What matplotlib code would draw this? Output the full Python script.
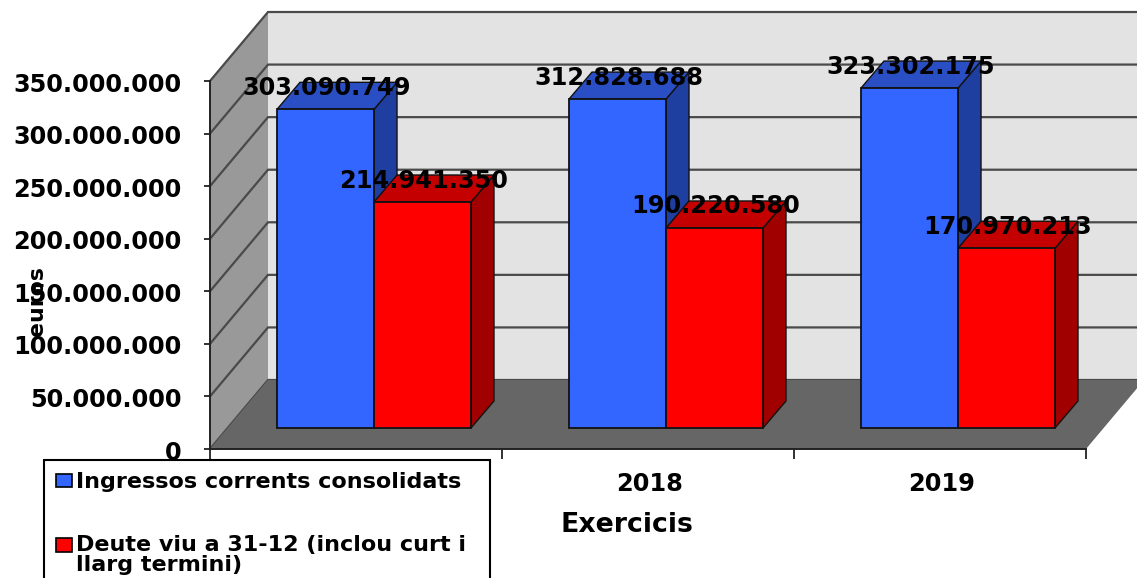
import matplotlib
matplotlib.use("Agg")
import matplotlib.pyplot as plt
from matplotlib.patches import Polygon, Patch
from matplotlib.transforms import Affine2D

x_labels = ["", "2018", "2019"]
ingressos = [303090749, 312828688, 323302175]
deute = [214941350, 190220580, 170970213]
series_names = ["Ingressos corrents consolidats",
                "Deute viu a 31-12 (inclou curt i\nllarg termini)"]
y_ticks = [0, 50000000, 100000000, 150000000, 200000000, 250000000, 300000000, 350000000]

W, H = 1137, 578
FONT = "DejaVu Sans"
fig = plt.figure(figsize=(W / 100, H / 100), dpi=100, facecolor="white")
L, R, T, B = 210, 1086, 81, 449
ax = fig.add_axes([L / W, (H - B) / H, (R - L) / W, (B - T) / H])
ax.patch.set_visible(False)
ax.set_xlim(0, 3)
ax.set_ylim(0, 350000000)
px_x = (R - L) / 3
px_y = (B - T) / 350000000


def shifted(dx, dy):
    return ax.transData + Affine2D().translate(dx, dy)


WALL_DX, WALL_DY = 58, 69
wdx, wdy = WALL_DX / px_x, WALL_DY / px_y
ymax = 350000000
# walls and floor
ax.add_patch(Polygon([(0, 0), (wdx, wdy), (wdx, ymax + wdy), (0, ymax)], closed=True,
                     fc="#999999", ec="none", zorder=0.5, clip_on=False))
ax.add_patch(Polygon([(wdx, wdy), (3 + wdx, wdy), (3 + wdx, ymax + wdy), (wdx, ymax + wdy)], closed=True,
                     fc="#e3e3e3", ec="none", zorder=0.5, clip_on=False))
for v in y_ticks:
    ax.plot([0, wdx, 3 + wdx], [v, v + wdy, v + wdy], color="#4a4a4a", lw=1.6, zorder=0.7,
            clip_on=False, solid_joinstyle="miter")
ax.add_patch(Polygon([(0, 0), (3, 0), (3 + wdx, wdy), (wdx, wdy)], closed=True,
                     fc="#666666", ec="none", zorder=0.8, clip_on=False))

# bars
FRONT_DX, FRONT_DY = 18, 21
DEPTH_DX, DEPTH_DY = 23, 27
ddx, ddy = DEPTH_DX / px_x, DEPTH_DY / px_y
bw = 97 / px_x
t_front = shifted(FRONT_DX, FRONT_DY)
styles = [("#3366ff", "#2a4fc4", "#1f3fa0"), ("#ff0000", "#c40000", "#a00000")]
for s, (vals, (cf, ct, cs)) in enumerate(zip([ingressos, deute], styles)):
    xs = [i + 0.5 + (s - 0.5) * bw for i in range(3)]
    for x, v in zip(xs, vals):
        x0, x1 = x - bw / 2, x + bw / 2
        ax.add_patch(Polygon([(x1, 0), (x1 + ddx, ddy), (x1 + ddx, v + ddy), (x1, v)], closed=True,
                             fc=cs, ec="#111111", lw=1.0, transform=t_front, zorder=2 + s, clip_on=False))
        ax.add_patch(Polygon([(x0, v), (x1, v), (x1 + ddx, v + ddy), (x0 + ddx, v + ddy)], closed=True,
                             fc=ct, ec="#111111", lw=1.0, transform=t_front, zorder=2 + s, clip_on=False))
    ax.bar(xs, vals, bw, color=cf, edgecolor="#111111", linewidth=1.3,
           transform=t_front, zorder=2.1 + s, clip_on=False)
    for x, v in zip(xs, vals):
        ax.text(x, v, f"{v:,}".replace(",", "."), transform=shifted(FRONT_DX + 1, FRONT_DY + 21.5),
                ha="center", va="center", fontsize=17.3, fontweight="bold", family=FONT,
                color="black", zorder=6, clip_on=False)

# axes
for sp in ("top", "right"):
    ax.spines[sp].set_visible(False)
for sp in ("left", "bottom"):
    ax.spines[sp].set_color("#222222")
    ax.spines[sp].set_linewidth(1.4)
    ax.spines[sp].set_zorder(1)
ax.set_yticks(y_ticks)
ax.set_yticklabels([f"{v:,}".replace(",", ".") for v in y_ticks], fontsize=17.3,
                   fontweight="bold", family=FONT)
ax.tick_params(axis="y", length=4.5, width=1.3, pad=15.8, color="#222222")
for lab in ax.get_yticklabels():
    lab.set_transform(lab.get_transform() + Affine2D().translate(0, -1))
ax.set_xticks([0, 1, 2, 3])
ax.set_xticklabels([])
ax.set_xticks([0.5, 1.5, 2.5], minor=True)
ax.set_xticklabels(x_labels, minor=True, fontsize=17.3, fontweight="bold", family=FONT)
ax.tick_params(axis="x", which="major", length=7, width=1.3, color="#222222")
ax.tick_params(axis="x", which="minor", length=0, pad=16.5)
for lab in ax.get_xticklabels(minor=True):
    lab.set_transform(lab.get_transform() + Affine2D().translate(2, 0))

fig.text(627 / W, 1 - 525 / H, "Exercicis", ha="center", va="center", fontsize=19.3,
         fontweight="bold", family=FONT)
fig.text(37 / W, 1 - 301.5 / H, "euros", ha="center", va="center", rotation=90, fontsize=15.8,
         fontweight="bold", family=FONT)

handles = [Patch(fc=styles[0][0], ec="black", lw=1.2), Patch(fc=styles[1][0], ec="black", lw=1.2)]
leg = fig.legend(handles, series_names, loc="upper left", bbox_to_anchor=(44 / W, 1 - 460 / H, 446 / W, 0),
                 mode="expand", ncols=1,
                 bbox_transform=fig.transFigure, borderaxespad=0, borderpad=0.55, labelspacing=1.93,
                 handlelength=0.73, handleheight=0.55, handletextpad=0.18, fancybox=False, framealpha=1,
                 edgecolor="black", facecolor="white",
                 prop={"family": FONT, "weight": "bold", "size": 16})
leg.get_frame().set_linewidth(1.5)
leg.set_zorder(5)
leg.get_texts()[1].set_linespacing(1.0)
h = leg.legend_handles[1]
h.set_y(h.get_y() + 7.5)

fig.savefig("out.png", dpi=100, facecolor="white")
